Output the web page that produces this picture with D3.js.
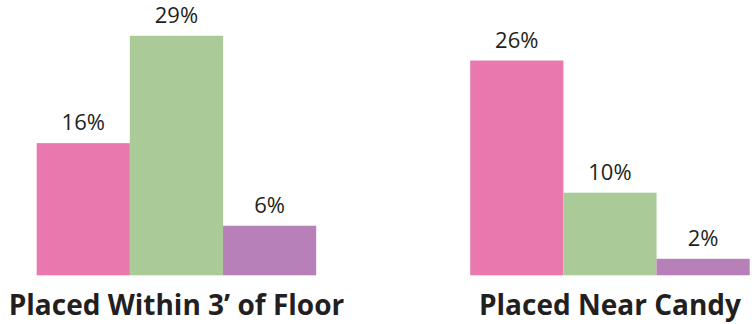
<html>
<head>
  <script src="https://d3js.org/d3.v7.min.js"></script>
  <style>
    body { margin: 0; background: #fff; }
  </style>
</head>
<body>
<div id="chart"></div>
<script>
// data
var groups = ["Placed Within 3\u2019 of Floor", "Placed Near Candy"];
var series = ["a", "b", "c"];
var floorValues = [16, 29, 6];
var candyValues = [26, 10, 2];
var colors = ["#e878ae", "#aaca98", "#b880b8"];

var width = 752, height = 324;
var baseline = 275.3;

var svg = d3.select("#chart")
    .append("svg")
    .attr("width", width)
    .attr("height", height);

// outer scale for the two groups, inner one for the three bars
var x0 = d3.scaleBand().domain(groups).range([36.7, 749.7]).paddingInner(154 / 433.5);
var x1 = d3.scaleBand().domain(series).range([0, x0.bandwidth()]);
var y = d3.scaleLinear().domain([0, 30]).range([baseline, baseline - 8.26 * 30]);

var rows = [floorValues, candyValues];

var g = svg.selectAll("g.group")
    .data(groups)
    .enter()
    .append("g")
    .attr("class", "group")
    .attr("transform", function(d) { return "translate(" + x0(d) + ",0)"; });

g.selectAll("rect")
    .data(function(d, i) { return rows[i].map(function(v, j) { return {s: series[j], v: v, c: colors[j]}; }); })
    .enter()
    .append("rect")
    .attr("x", function(d) { return x1(d.s); })
    .attr("width", x1.bandwidth())
    .attr("y", function(d) { return y(d.v); })
    .attr("height", function(d) { return baseline - y(d.v); })
    .attr("fill", function(d) { return d.c; });

g.selectAll("text.val")
    .data(function(d, i) { return rows[i].map(function(v, j) { return {s: series[j], v: v}; }); })
    .enter()
    .append("text")
    .attr("class", "val")
    .attr("x", function(d) { return x1(d.s) + x1.bandwidth() / 2; })
    .attr("y", function(d) { return y(d.v) - 13; })
    .attr("text-anchor", "middle")
    .attr("font-family", "Open Sans")
    .attr("font-size", 22)
    .attr("fill", "#231f20")
    .text(function(d) { return d.v + "%"; });

// group titles under the bars
g.append("text")
    .attr("x", x0.bandwidth() / 2)
    .attr("y", 315)
    .attr("text-anchor", "middle")
    .attr("font-family", "Open Sans")
    .attr("font-weight", "bold")
    .attr("font-size", 28)
    .attr("fill", "#231f20")
    .text(function(d) { return d; });
</script>
</body>
</html>
